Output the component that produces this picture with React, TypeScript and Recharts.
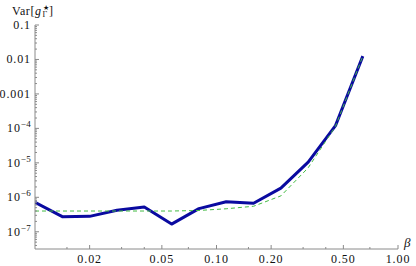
import React from 'react';
import { LineChart, Line, XAxis, YAxis } from 'recharts';

const betaValues = [0.01, 0.01414, 0.02, 0.02828, 0.04, 0.05657, 0.08, 0.1131, 0.16, 0.2263, 0.32, 0.4525, 0.64];
const varSimulated = [7.1e-7, 2.75e-7, 2.8e-7, 4.2e-7, 5.2e-7, 1.67e-7, 4.7e-7, 7.4e-7, 6.7e-7, 1.85e-6, 1.05e-5, 1.2e-4, 0.0125];
const varTheory = [4.0e-7, 4.0e-7, 4.0e-7, 4.0e-7, 4.0e-7, 4.0e-7, 4.15e-7, 4.65e-7, 5.5e-7, 1.1e-6, 7.2e-6, 1.15e-4, 0.0125];

const xMajorTicks = [0.02, 0.05, 0.1, 0.2, 0.5, 1.0];
const xTickLabels = ['0.02', '0.05', '0.10', '0.20', '0.50', '1.00'];
const xMinorTicks = [0.015, 0.03, 0.04, 0.07, 0.15, 0.3, 0.4, 0.7];

const yMajorTicks = [1e-7, 1e-6, 1e-5, 1e-4, 1e-3, 0.01, 0.1];
const yTickBase = ['10', '10', '10', '10', '0.001', '0.01', '0.1'];
const yTickExp = ['\u22127', '\u22126', '\u22125', '\u22124', '', '', ''];
const yMinorTicks = [
  4e-8, 5e-8, 6e-8, 7e-8, 8e-8, 9e-8,
  2e-7, 3e-7, 4e-7, 5e-7, 6e-7, 7e-7, 8e-7, 9e-7,
  2e-6, 3e-6, 4e-6, 5e-6, 6e-6, 7e-6, 8e-6, 9e-6,
  2e-5, 3e-5, 4e-5, 5e-5, 6e-5, 7e-5, 8e-5, 9e-5,
  2e-4, 3e-4, 4e-4, 5e-4, 6e-4, 7e-4, 8e-4, 9e-4,
  2e-3, 3e-3, 4e-3, 5e-3, 6e-3, 7e-3, 8e-3, 9e-3,
  0.02, 0.03, 0.04, 0.05, 0.06, 0.07, 0.08, 0.09,
];

const data = betaValues.map((b, i) => ({ beta: b, sim: varSimulated[i], theory: varTheory[i] }));

const FONT = '"Liberation Serif", "Times New Roman", serif';
const AXIS_COLOR = '#8a8a8a';

const XTick = (props: any) => {
  const { x, y, payload } = props;
  const v = payload.value;
  const idx = xMajorTicks.findIndex((t) => Math.abs(t - v) < 1e-9);
  const major = idx >= 0;
  return (
    <g>
      <line x1={x} x2={x} y1={y} y2={y - (major ? 4 : 2)} stroke={AXIS_COLOR} strokeWidth={1} />
      {major && (
        <text x={x} y={y + 14} textAnchor="middle" fontFamily={FONT} fontSize={12} letterSpacing={0.9} fill="#111">
          {xTickLabels[idx]}
        </text>
      )}
    </g>
  );
};

const YTick = (props: any) => {
  const { x, y, payload } = props;
  const v = payload.value;
  const idx = yMajorTicks.findIndex((t) => Math.abs(t - v) / t < 1e-6);
  const major = idx >= 0;
  return (
    <g>
      <line x1={x} x2={x + (major ? 4 : 2)} y1={y} y2={y} stroke={AXIS_COLOR} strokeWidth={1} />
      {major && (
        <text x={x - 4} y={y + 4} textAnchor="end" fontFamily={FONT} fontSize={12} letterSpacing={0.9} fill="#111">
          {yTickBase[idx]}
          {yTickExp[idx] && (
            <tspan dy={-5} fontSize={9} letterSpacing={0.3}>
              {yTickExp[idx]}
            </tspan>
          )}
        </text>
      )}
    </g>
  );
};

export default function App() {
  return (
    <div style={{ position: 'absolute', left: 0, top: 0, width: 416, height: 266, background: '#fff' }}>
      <LineChart width={416} height={266} data={data} margin={{ top: 25, right: 18, bottom: 0, left: 0 }}>
        <XAxis
          dataKey="beta"
          type="number"
          scale="log"
          domain={[0.01, 1]}
          allowDataOverflow
          ticks={[...xMajorTicks, ...xMinorTicks]}
          interval={0}
          tickSize={0}
          tickMargin={0}
          tickLine={false}
          tick={<XTick />}
          height={17}
          axisLine={{ stroke: AXIS_COLOR, strokeWidth: 1 }}
        />
        <YAxis
          type="number"
          scale="log"
          domain={[Math.pow(10, -7.5), 0.1]}
          allowDataOverflow
          ticks={[...yMajorTicks, ...yMinorTicks]}
          interval={0}
          tickSize={0}
          tickMargin={0}
          tickLine={false}
          tick={<YTick />}
          width={35}
          axisLine={{ stroke: AXIS_COLOR, strokeWidth: 1 }}
        />
        <Line
          dataKey="sim"
          type="linear"
          stroke="#0a0aa0"
          strokeWidth={3}
          dot={false}
          isAnimationActive={false}
          strokeLinejoin="round"
        />
        <Line
          dataKey="theory"
          type="linear"
          stroke="#44bb44"
          strokeWidth={1}
          strokeDasharray="4 3"
          dot={false}
          isAnimationActive={false}
        />
      </LineChart>
      <svg width={416} height={266} style={{ position: 'absolute', left: 0, top: 0, pointerEvents: 'none' }}>
        <text x={12} y={15} fontFamily={FONT} fontSize={12} letterSpacing={0.6} fill="#111">
          Var[<tspan fontStyle="italic">g</tspan>
          <tspan x={42.5} y={9.5} fontSize={6.5} letterSpacing={0}>{'\u2605'}</tspan>
          <tspan x={42.5} y={17} fontSize={8} letterSpacing={0}>{'\u0393'}</tspan>
          <tspan x={49} y={15} fontSize={12}>]</tspan>
        </text>
        <text x={404} y={247} fontFamily={FONT} fontSize={13} fontStyle="italic" fill="#111">{'\u03B2'}</text>
      </svg>
    </div>
  );
}
